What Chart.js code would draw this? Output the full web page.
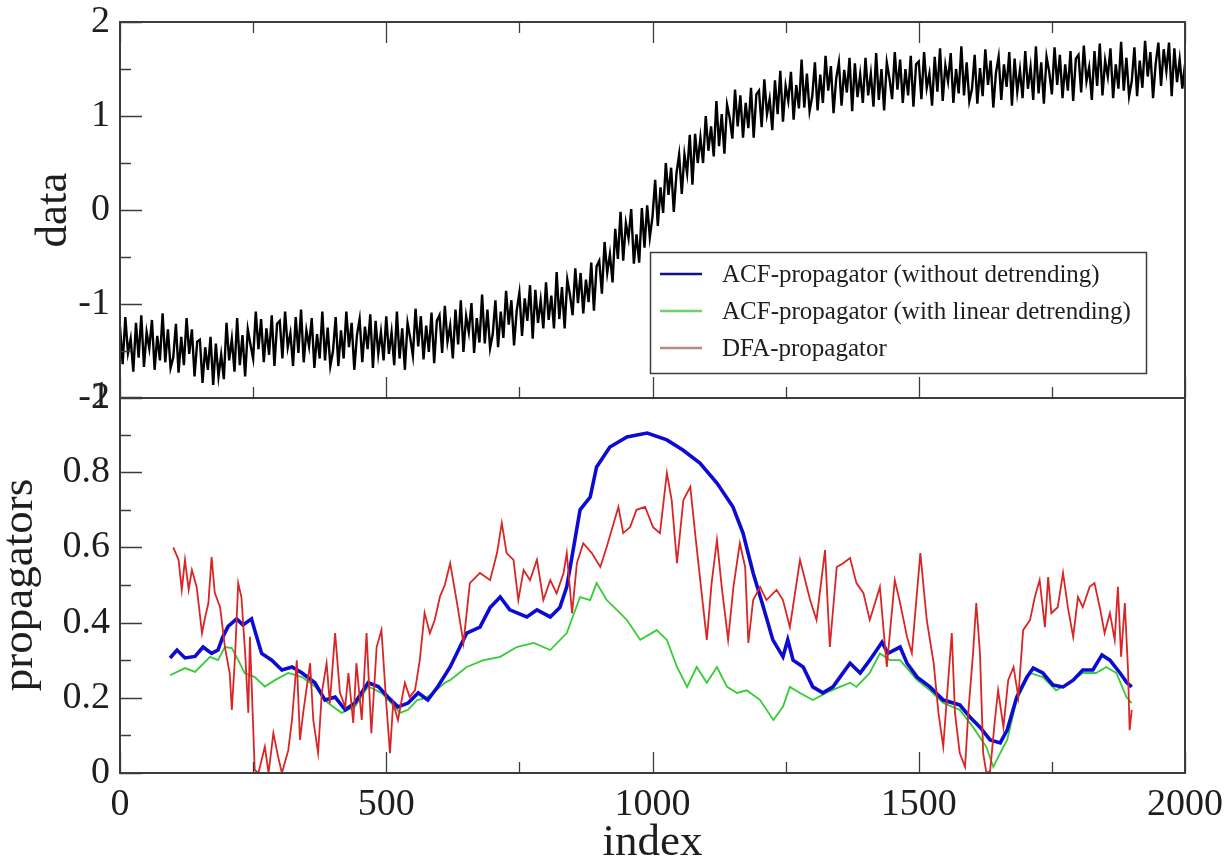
<!DOCTYPE html>
<html>
<head>
<meta charset="utf-8">
<script src="https://cdn.jsdelivr.net/npm/chart.js@4/dist/chart.umd.min.js"></script>
<style>
html,body{margin:0;padding:0;background:#fff;}
#wrap{position:relative;width:1232px;height:860px;overflow:hidden;background:#fff;}
#wrap canvas{position:absolute;left:0;top:0;}
</style>
</head>
<body>
<div id="wrap">
<canvas id="topChart" width="1232" height="860"></canvas>
<canvas id="botChart" width="1232" height="860"></canvas>
</div>
<script>
// ---------- DATA ----------
// top panel: "data" series, one value every 5 index units (0 .. 2000)
const dataStep = 5;
const dataVals = [
-1.24,-1.64,-1.14,-1.52,-1.37,-1.72,-1.20,-1.57,-1.12,-1.67,-1.30,-1.47,-1.17,-1.70,-1.34,-1.60,-1.10,-1.62,-1.27,-1.68,
-1.57,-1.21,-1.73,-1.35,-1.65,-1.15,-1.53,-1.27,-1.77,-1.40,-1.38,-1.84,-1.46,-1.70,-1.35,-1.86,-1.42,-1.77,-1.54,-1.80,
-1.20,-1.60,-1.37,-1.72,-1.15,-1.65,-1.33,-1.77,-1.27,-1.43,-1.58,-1.08,-1.48,-1.16,-1.62,-1.26,-1.54,-1.12,-1.66,-1.21,
-1.18,-1.58,-1.08,-1.46,-1.31,-1.66,-1.14,-1.52,-1.06,-1.62,-1.28,-1.45,-1.15,-1.68,-1.32,-1.58,-1.08,-1.60,-1.25,-1.66,
-1.50,-1.14,-1.66,-1.28,-1.58,-1.08,-1.46,-1.20,-1.70,-1.33,-1.16,-1.62,-1.24,-1.48,-1.11,-1.68,-1.18,-1.53,-1.30,-1.60,
-1.13,-1.53,-1.30,-1.65,-1.08,-1.58,-1.26,-1.70,-1.20,-1.36,-1.55,-1.05,-1.45,-1.13,-1.59,-1.23,-1.51,-1.09,-1.63,-1.18,
-1.12,-1.52,-1.02,-1.40,-1.23,-1.58,-1.06,-1.43,-0.96,-1.51,-1.13,-1.30,-0.99,-1.52,-1.15,-1.41,-0.90,-1.42,-1.06,-1.47,
-1.32,-0.96,-1.46,-1.08,-1.36,-0.86,-1.22,-0.96,-1.44,-1.07,-0.88,-1.34,-0.94,-1.18,-0.80,-1.37,-0.85,-1.20,-0.96,-1.26,
-0.77,-1.17,-0.91,-1.26,-0.66,-1.16,-0.82,-1.26,-0.74,-0.90,-1.12,-0.62,-0.99,-0.67,-1.10,-0.74,-0.98,-0.56,-1.07,-0.60,
-0.54,-0.89,-0.34,-0.67,-0.47,-0.77,-0.20,-0.52,-0.02,-0.54,-0.14,-0.30,0.01,-0.57,-0.26,-0.56,0.02,-0.40,0.05,-0.29,
-0.07,0.32,-0.17,0.24,-0.03,0.50,0.16,0.45,-0.02,0.39,0.59,0.17,0.59,0.39,0.80,0.27,0.81,0.50,0.77,0.50,
1.00,0.63,0.89,0.57,1.16,0.68,1.02,0.60,1.12,0.98,0.76,1.28,0.89,1.22,0.77,1.14,0.87,1.30,0.77,1.23,
1.27,0.88,1.39,1.02,1.18,0.85,1.38,1.02,1.48,0.94,1.32,1.16,1.47,0.96,1.33,1.08,1.60,1.09,1.45,1.05,
1.21,1.57,1.06,1.44,1.14,1.64,1.27,1.53,1.03,1.40,1.57,1.11,1.49,1.25,1.62,1.05,1.56,1.20,1.44,1.14,
1.62,1.22,1.45,1.10,1.67,1.17,1.50,1.06,1.57,1.40,1.18,1.68,1.28,1.60,1.14,1.50,1.22,1.64,1.10,1.55,
1.58,1.18,1.68,1.30,1.45,1.11,1.63,1.26,1.72,1.16,1.54,1.37,1.67,1.14,1.50,1.24,1.74,1.22,1.57,1.16,
1.29,1.65,1.13,1.51,1.21,1.71,1.33,1.59,1.09,1.46,1.63,1.17,1.55,1.31,1.68,1.11,1.61,1.26,1.49,1.19,
1.69,1.29,1.52,1.17,1.74,1.24,1.57,1.13,1.63,1.47,1.23,1.73,1.33,1.65,1.19,1.55,1.27,1.69,1.16,1.61,
1.65,1.25,1.75,1.37,1.52,1.17,1.69,1.32,1.77,1.22,1.59,1.42,1.72,1.19,1.55,1.29,1.79,1.27,1.62,1.21,
1.37,1.73,1.21,1.59,1.30,1.80,1.42,1.68,1.19,1.56,1.78,1.32,1.71,1.48,1.78,1.21,1.72,1.36,1.60,1.29,
1.55
];
const dataIndex = dataVals.map((_, i) => i * dataStep);

// bottom panel: ACF-propagator (without detrending)
const acfRawIdx = [94,107,122,141,156,172,184,193,203,219,231,247,253,266,285,304,323,342,366,385,404,423,441,466,485,503,522,541,560,578,597,620,651,676,695,714,732,764,783,808,826,839,851,864,883,895,920,952,990,1027,1057,1089,1121,1151,1170,1189,1208,1226,1245,1254,1264,1283,1301,1320,1339,1352,1371,1390,1408,1431,1442,1465,1478,1497,1521,1546,1577,1596,1615,1634,1653,1666,1684,1703,1715,1733,1752,1771,1790,1808,1827,1844,1859,1878,1891,1900];
const acfRawVals = [0.306,0.327,0.306,0.31,0.335,0.318,0.327,0.362,0.39,0.41,0.394,0.41,0.38,0.318,0.30,0.274,0.282,0.266,0.24,0.194,0.202,0.168,0.186,0.24,0.23,0.202,0.176,0.186,0.213,0.194,0.23,0.282,0.372,0.388,0.44,0.468,0.434,0.415,0.434,0.415,0.44,0.495,0.593,0.70,0.734,0.814,0.867,0.894,0.904,0.886,0.859,0.824,0.771,0.708,0.638,0.532,0.442,0.354,0.309,0.354,0.30,0.282,0.229,0.213,0.229,0.255,0.292,0.266,0.30,0.348,0.318,0.335,0.292,0.255,0.229,0.194,0.181,0.149,0.122,0.088,0.08,0.114,0.202,0.255,0.279,0.266,0.234,0.229,0.247,0.274,0.274,0.314,0.30,0.266,0.24,0.229];

// bottom panel: ACF-propagator (with linear detrending)
const acfDetIdx = [94,122,141,169,184,197,210,222,234,253,272,291,316,342,366,391,416,441,466,491,516,526,541,558,575,588,610,620,651,683,714,745,777,808,839,864,883,895,914,933,952,977,1008,1027,1046,1065,1083,1102,1121,1140,1159,1177,1202,1227,1245,1258,1277,1301,1326,1352,1371,1383,1408,1427,1446,1465,1497,1521,1546,1577,1602,1627,1640,1653,1666,1684,1709,1733,1758,1783,1808,1833,1852,1871,1890,1900];
const acfDetVals = [0.26,0.279,0.269,0.309,0.30,0.335,0.332,0.30,0.266,0.255,0.23,0.247,0.266,0.255,0.23,0.186,0.16,0.176,0.23,0.213,0.176,0.16,0.168,0.194,0.20,0.213,0.24,0.247,0.282,0.30,0.309,0.335,0.346,0.327,0.372,0.468,0.46,0.505,0.46,0.434,0.407,0.354,0.38,0.354,0.282,0.229,0.282,0.24,0.282,0.229,0.213,0.22,0.194,0.141,0.176,0.229,0.213,0.194,0.213,0.229,0.24,0.229,0.266,0.318,0.30,0.30,0.247,0.22,0.186,0.168,0.122,0.069,0.016,0.053,0.088,0.194,0.266,0.255,0.22,0.24,0.266,0.266,0.282,0.266,0.202,0.186];

// bottom panel: DFA-propagator
const dfaIdx = [100,110,116,122,129,135,144,154,160,166,172,178,188,197,206,210,216,222,228,235,241,244,253,260,272,279,288,297,304,316,323,332,338,344,357,363,372,379,388,394,404,413,423,429,438,444,454,463,472,482,491,500,507,513,522,535,544,554,563,572,582,591,601,610,620,632,645,657,676,695,708,717,726,739,748,758,770,783,795,808,820,833,839,849,858,870,886,902,914,936,945,958,970,986,1001,1014,1027,1036,1046,1058,1071,1080,1089,1102,1111,1121,1130,1142,1152,1164,1174,1180,1189,1202,1214,1233,1245,1258,1277,1296,1308,1324,1333,1346,1358,1371,1383,1396,1408,1414,1427,1440,1455,1465,1478,1487,1503,1515,1528,1537,1546,1553,1562,1568,1577,1587,1593,1602,1608,1615,1621,1627,1634,1643,1649,1659,1668,1678,1687,1696,1709,1718,1727,1737,1743,1749,1761,1771,1780,1790,1799,1808,1821,1830,1840,1849,1859,1868,1874,1880,1887,1893,1896,1900];
const dfaVals = [0.60,0.567,0.487,0.567,0.487,0.54,0.495,0.372,0.415,0.452,0.574,0.479,0.441,0.335,0.266,0.168,0.309,0.505,0.468,0.319,0.16,0.362,0.008,0.0,0.07,0.0,0.106,0.043,0.0,0.06,0.141,0.30,0.088,0.16,0.292,0.141,0.053,0.213,0.292,0.186,0.372,0.213,0.176,0.266,0.133,0.292,0.141,0.372,0.106,0.335,0.38,0.186,0.053,0.186,0.141,0.24,0.202,0.22,0.30,0.426,0.372,0.407,0.47,0.50,0.558,0.46,0.346,0.505,0.532,0.513,0.585,0.665,0.585,0.567,0.46,0.54,0.513,0.567,0.46,0.513,0.478,0.532,0.585,0.425,0.558,0.611,0.585,0.548,0.601,0.708,0.638,0.654,0.70,0.708,0.654,0.638,0.798,0.726,0.558,0.726,0.761,0.638,0.521,0.354,0.505,0.62,0.495,0.354,0.495,0.611,0.548,0.346,0.46,0.495,0.46,0.487,0.46,0.388,0.567,0.46,0.407,0.593,0.335,0.548,0.558,0.572,0.505,0.479,0.407,0.434,0.495,0.282,0.513,0.452,0.362,0.319,0.585,0.407,0.292,0.16,0.07,0.202,0.372,0.16,0.053,0.016,0.16,0.319,0.452,0.319,0.053,0.0,0.005,0.141,0.22,0.122,0.247,0.282,0.202,0.38,0.407,0.468,0.513,0.388,0.521,0.425,0.441,0.532,0.441,0.362,0.468,0.441,0.495,0.505,0.441,0.372,0.425,0.354,0.495,0.309,0.452,0.274,0.114,0.168];

// axis ticks
const xTickLabels = [0, 500, 1000, 1500, 2000];
const dataTickLabels = [-2, -1, 0, 1, 2];
const propTickLabels = [0, 0.2, 0.4, 0.6, 0.8, 1];

// ---------- STYLE / LAYOUT ----------
const SERIF = '"Liberation Serif","Times New Roman",Times,serif';
const TXT = '#1e1e1e';
const FRAME = '#3c3c3c';
const AREA = {left:120, right:1185, top:22, mid:398, bottom:773};
const W = 1232, H = 860;
const TICK_FONT = {family:SERIF, size:38, lineHeight:0.5};
const TITLE_FONT = {family:SERIF, size:45, lineHeight:1};

function pairs(xs, ys){ return xs.map((x, i) => ({x, y: ys[i]})); }

function drawTicks(chart, cfg){
  const ctx = chart.ctx, a = chart.chartArea;
  const xs = chart.scales.x, ys = chart.scales.y;
  ctx.save();
  ctx.strokeStyle = FRAME;
  ctx.lineWidth = 1.3;
  ctx.beginPath();
  const nY = Math.round((ys.max - ys.min) / cfg.yMinor);
  for (let k = 0; k <= nY; k++){
    const v = ys.min + k * cfg.yMinor;
    const p = Math.round(ys.getPixelForValue(v)) + 0.5;
    const len = (k % 2 === 0) ? 22 : 11;
    ctx.moveTo(a.left, p); ctx.lineTo(a.left + len, p);
  }
  for (let v = xs.min; v <= xs.max + 1e-9; v += 250){
    const p = Math.round(xs.getPixelForValue(v)) + 0.5;
    const len = (v % 500 === 0) ? 21 : 11;
    if (cfg.bottomTicks){ ctx.moveTo(p, a.bottom); ctx.lineTo(p, a.bottom - len); }
    if (cfg.topTicks){ ctx.moveTo(p, a.top); ctx.lineTo(p, a.top + len); }
  }
  ctx.stroke();
  ctx.lineWidth = 2;
  ctx.beginPath();
  ctx.moveTo(a.left, a.top); ctx.lineTo(a.left, a.bottom);
  ctx.moveTo(a.right, a.top); ctx.lineTo(a.right, a.bottom);
  ctx.moveTo(a.left - 1, a.bottom); ctx.lineTo(a.right + 1, a.bottom);
  if (cfg.topLine){ ctx.moveTo(a.left - 1, a.top); ctx.lineTo(a.right + 1, a.top); }
  ctx.stroke();
  ctx.restore();
}

const topFrame = { id:'topFrame', afterDatasetsDraw(chart){ drawTicks(chart, {yMinor:0.5, topTicks:true, bottomTicks:true, topLine:true}); } };
const botFrame = { id:'botFrame', afterDatasetsDraw(chart){ drawTicks(chart, {yMinor:0.1, topTicks:false, bottomTicks:true, topLine:false}); } };

const legendBox = {
  id:'legendBox',
  afterDraw(chart){
    const ctx = chart.ctx;
    const bx = 650, by = 252, bw = 496, bh = 121;
    ctx.save();
    ctx.fillStyle = '#fff';
    ctx.fillRect(bx, by, bw, bh);
    ctx.strokeStyle = FRAME; ctx.lineWidth = 1.5;
    ctx.strokeRect(bx + 0.5, by + 0.5, bw, bh);
    const rows = [274, 311, 348];
    chart.data.datasets.forEach((ds, i) => {
      const y = rows[i];
      ctx.strokeStyle = ds.legendColor || ds.borderColor;
      ctx.lineWidth = 2.5;
      ctx.beginPath(); ctx.moveTo(660, y); ctx.lineTo(702, y); ctx.stroke();
      ctx.fillStyle = TXT;
      ctx.font = '25px ' + SERIF;
      ctx.textBaseline = 'middle';
      ctx.textAlign = 'left';
      ctx.fillText(ds.label, 722, y + 1);
    });
    ctx.restore();
  }
};

// ---------- TOP CHART ----------
new Chart(document.getElementById('topChart'), {
  type:'line',
  data:{ datasets:[{
    label:'data', data: pairs(dataIndex, dataVals),
    borderColor:'#000', borderWidth:2.4, pointRadius:0, tension:0
  }]},
  options:{
    responsive:false, animation:false, devicePixelRatio:1,
    layout:{padding:{left:0, right:W - AREA.right, top:AREA.top, bottom:H - AREA.mid}},
    plugins:{legend:{display:false}, tooltip:{enabled:false}},
    scales:{
      x:{type:'linear', min:0, max:2000, display:false},
      y:{type:'linear', min:-2, max:2,
         afterBuildTicks(s){ s.ticks = dataTickLabels.map(v => ({value:v})); },
         ticks:{font:TICK_FONT, color:TXT, padding:10, callback:v => String(v)},
         grid:{display:false, drawTicks:false}, border:{display:false},
         title:{display:true, text:'data', color:TXT, font:TITLE_FONT, padding:{top:32, bottom:0}},
         afterFit(s){ s.width = AREA.left; }
      }
    }
  },
  plugins:[topFrame]
});

// ---------- BOTTOM CHART ----------
new Chart(document.getElementById('botChart'), {
  type:'line',
  data:{ datasets:[
    {label:'ACF-propagator (without detrending)', data: pairs(acfRawIdx, acfRawVals),
     borderColor:'#0b0bd2', legendColor:'#10108a', borderWidth:3.6, pointRadius:0, tension:0, order:1},
    {label:'ACF-propagator (with linear detrending)', data: pairs(acfDetIdx, acfDetVals),
     borderColor:'#35cc35', legendColor:'#6fd06f', borderWidth:1.8, pointRadius:0, tension:0, order:2},
    {label:'DFA-propagator', data: pairs(dfaIdx, dfaVals),
     borderColor:'#d82626', legendColor:'#b88888', borderWidth:1.8, pointRadius:0, tension:0, order:0}
  ]},
  options:{
    responsive:false, animation:false, devicePixelRatio:1,
    layout:{padding:{left:0, right:W - AREA.right, top:AREA.mid - 1, bottom:0}},
    plugins:{legend:{display:false}, tooltip:{enabled:false}},
    scales:{
      x:{type:'linear', min:0, max:2000,
         afterBuildTicks(s){ s.ticks = xTickLabels.map(v => ({value:v})); },
         ticks:{font:{family:SERIF, size:38}, color:TXT, padding:9, maxRotation:0, callback:v => String(v)},
         grid:{display:false, drawTicks:false}, border:{display:false},
         title:{display:true, text:'index', color:TXT, font:{family:SERIF, size:45, lineHeight:0.75}, padding:{top:0, bottom:0}},
         afterFit(s){ s.height = H - AREA.bottom; }
      },
      y:{type:'linear', min:0, max:1,
         afterBuildTicks(s){ s.ticks = propTickLabels.map(v => ({value:v})); },
         ticks:{font:TICK_FONT, color:TXT, padding:10, callback:v => String(v)},
         grid:{display:false, drawTicks:false}, border:{display:false},
         title:{display:true, text:'propagators', color:TXT, font:TITLE_FONT, padding:{top:-2, bottom:0}},
         afterFit(s){ s.width = AREA.left; }
      }
    }
  },
  plugins:[botFrame, legendBox]
});
</script>
</body>
</html>
